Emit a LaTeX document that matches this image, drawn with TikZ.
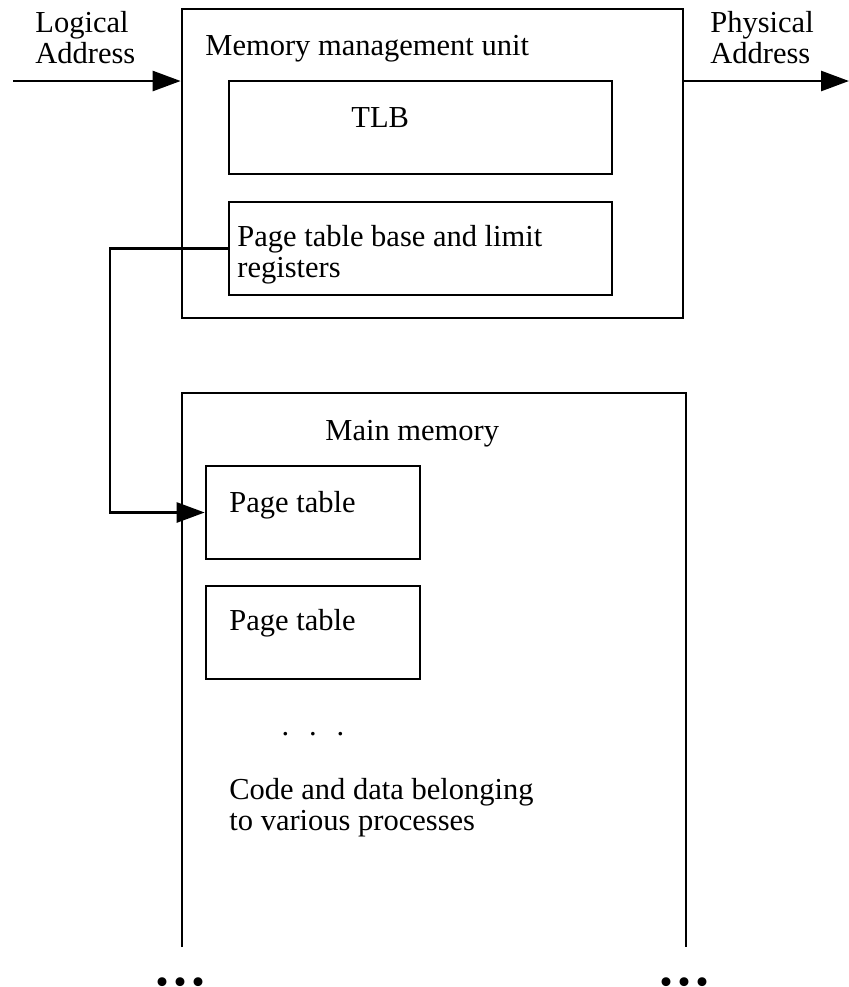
\documentclass[tikz,border=0pt]{standalone}
\usepackage{fontspec}
\setmainfont{Liberation Serif}
\newfontfamily\dotfont{DejaVu Sans}
\usetikzlibrary{arrows.meta}
\begin{document}
\begin{tikzpicture}[x=0.5pt,y=-0.5pt,
  box/.style={draw, line width=1.35pt, inner sep=0pt},
  wire/.style={draw, line width=1.35pt},
  tip/.style={-{Triangle[length=14pt,width=10pt]}},
  txt/.style={font=\fontsize{15.25}{15.5}\selectfont, inner sep=0pt, anchor=base west, align=left}]
\useasboundingbox (0,0) rectangle (849,987);
\node[box, minimum width=250.5pt, minimum height=154.5pt] (mmu) at (432.5,163.5) {};
\node[box, minimum width=191.5pt, minimum height=46.5pt] (tlb) at (420.5,127.5) {};
\node[box, minimum width=191.5pt, minimum height=46.5pt] (ptbr) at (420.5,248.5) {};
\node[box, minimum width=107pt, minimum height=46.5pt] (pt1) at (313,512.5) {};
\node[box, minimum width=107pt, minimum height=46.5pt] (pt2) at (313,632.5) {};
\coordinate (mem-sw) at (182,947);
\coordinate (mem-ne) at (686,393);
\coordinate (lin) at (13,81);
\coordinate (pout) at (849,81);
\coordinate (bend) at (110,400);
% texts
\node[txt] (logical) at (35,63) {Logical\\Address};
\node[txt] (physical) at (710,63) {Physical\\Address};
\node[txt] (mmutext) at (205,55) {Memory management unit};
\node[txt] (tlbtext) at (351,127) {TLB};
\node[txt] (ptbrtext) at (237,277) {Page table base and limit\\registers};
\node[txt] (memtext) at (325,440) {Main memory};
\node[txt] (pt1text) at (229,512) {Page table};
\node[txt] (pt2text) at (229,630) {Page table};
\node[txt, anchor=base] (more) at (313,735) {.\hspace{0.65em}.\hspace{0.65em}.};
\node[txt] (code) at (229,830) {Code and data belonging\\to various processes};
\node[txt, anchor=center, font=\fontsize{15.25}{15.5}\dotfont] (dotsl) at (180,986) {•••};
\node[txt, anchor=center, font=\fontsize{15.25}{15.5}\dotfont] (dotsr) at (684,986) {•••};
% lines
\path[wire] (mem-sw) |- (mem-ne) -- (mem-ne |- mem-sw);
\path[wire,tip] (lin) -- (lin -| mmu.west);
\path[wire,tip] (pout -| mmu.east) -- (pout);
\path[wire,tip] (ptbr.west) -- (bend |- ptbr.west) |- (pt1.west);
\end{tikzpicture}
\end{document}
